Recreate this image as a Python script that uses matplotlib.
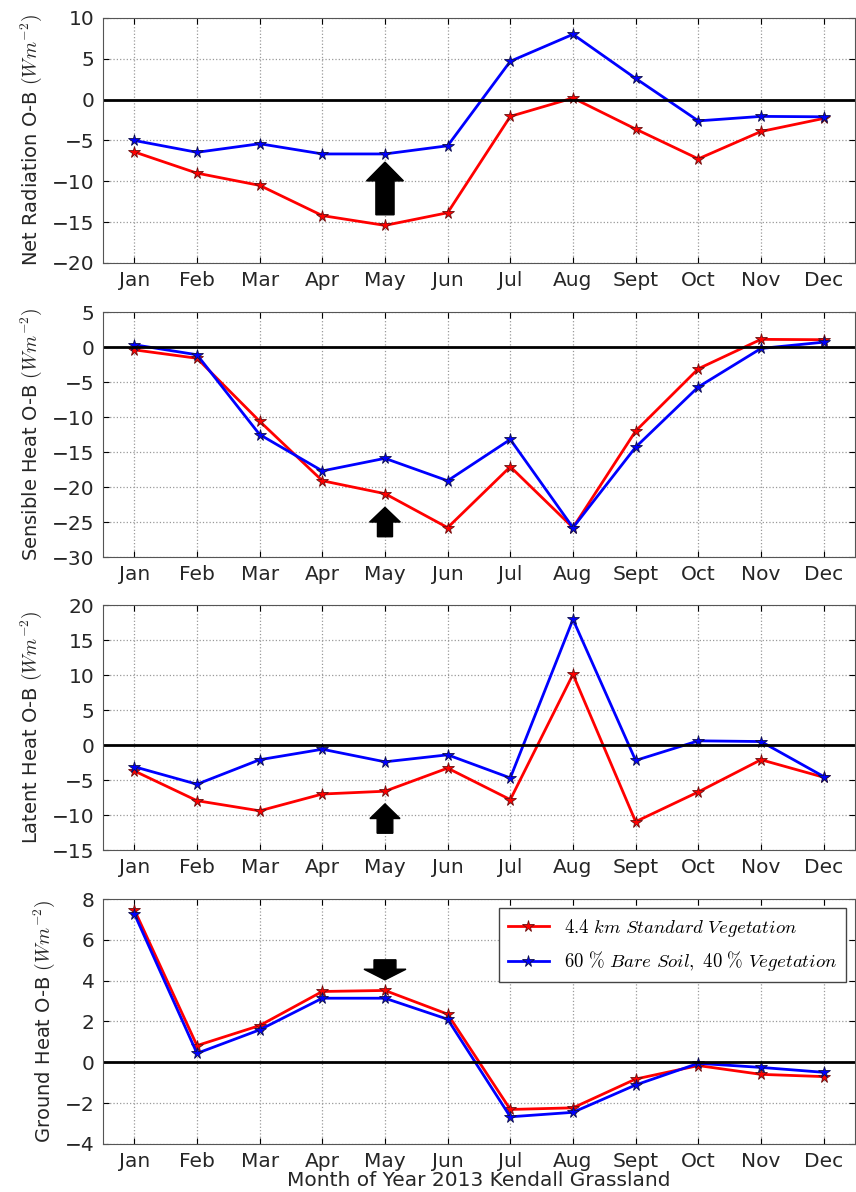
import numpy as np
import matplotlib
matplotlib.use('Agg')
import matplotlib.pyplot as plt

plt.rcParams['mathtext.fontset'] = 'cm'
plt.rcParams['font.family'] = 'DejaVu Sans'

months = ['Jan', 'Feb', 'Mar', 'Apr', 'May', 'Jun', 'Jul', 'Aug', 'Sept',
          'Oct', 'Nov', 'Dec']
month_num = np.arange(1, 13)

# net radiation O-B
net_std = [-6.4, -9.0, -10.5, -14.2, -15.4, -13.85, -2.05, 0.2, -3.6, -7.25, -3.9, -2.3]
net_bare = [-5.0, -6.45, -5.4, -6.65, -6.65, -5.65, 4.7, 8.0, 2.6, -2.6, -2.05, -2.1]

# sensible heat O-B
sens_std = [-0.4, -1.6, -10.6, -19.1, -20.95, -25.8, -17.1, -25.8, -12.0, -3.1, 1.1, 1.05]
sens_bare = [0.33, -1.1, -12.5, -17.7, -15.9, -19.1, -13.2, -25.8, -14.3, -5.7, -0.2, 0.7]

# latent heat O-B
lat_std = [-3.7, -7.95, -9.4, -7.0, -6.6, -3.3, -7.8, 10.1, -10.95, -6.7, -2.1, -4.6]
lat_bare = [-3.1, -5.6, -2.1, -0.6, -2.4, -1.4, -4.7, 17.95, -2.2, 0.6, 0.5, -4.5]

# ground heat O-B
gnd_std = [7.48, 0.82, 1.8, 3.47, 3.52, 2.36, -2.31, -2.23, -0.82, -0.16, -0.59, -0.7]
gnd_bare = [7.28, 0.44, 1.59, 3.14, 3.14, 2.11, -2.67, -2.45, -1.11, -0.05, -0.25, -0.49]

labels = ['Net Radiation O-B', 'Sensible Heat O-B', 'Latent Heat O-B',
          'Ground Heat O-B']
ylims = [(-20, 10), (-30, 5), (-15, 20), (-4, 8)]
ysteps = [5, 5, 5, 2]
# arrow at May: (tail, tip, head length, shaft width, head width)
arrows = [(-14.1, -7.65, 2.3, 0.29, 0.59),
          (-27.1, -22.9, 2.1, 0.24, 0.49),
          (-12.6, -8.4, 2.1, 0.25, 0.48),
          (5.02, 4.04, 0.52, 0.35, 0.67)]

series = [(net_std, net_bare), (sens_std, sens_bare), (lat_std, lat_bare),
          (gnd_std, gnd_bare)]

# axes positions (figure fraction)
bottoms = [0.7794, 0.5327, 0.2869, 0.0403]
left, width, height = 0.1203, 0.8785, 0.2055

fig = plt.figure(figsize=(8.56, 11.92), dpi=100)

text_col = '#262626'
for i in range(4):
    ax = fig.add_axes([left, bottoms[i], width, height])
    std_vals, bare_vals = series[i]
    ax.plot(month_num, std_vals, color='r', lw=2, marker='*', ms=8.5,
            mec='#6a1010', mew=0.6,
            label=r'$4.4\ km\ Standard\ Vegetation$')
    ax.plot(month_num, bare_vals, color='b', lw=2, marker='*', ms=8.5,
            mec='#10104a', mew=0.6,
            label=r'$60\ \%\ Bare\ Soil,\ 40\ \%\ Vegetation$')
    ax.axhline(0, color='k', lw=2)

    tail, tip, hl, sw, hw = arrows[i]
    ax.arrow(5, tail, 0, tip - tail, width=sw, head_width=hw, head_length=hl,
             length_includes_head=True, fc='k', ec='k', zorder=5)

    ax.set_xlim(0.5, 12.5)
    ax.set_ylim(*ylims[i])
    ax.set_yticks(np.arange(ylims[i][0], ylims[i][1] + 0.1, ysteps[i]))
    ax.set_xticks(month_num)
    ax.set_xticklabels(months)
    ax.grid(True, color='#999999', linestyle=':', lw=0.9)
    ax.tick_params(direction='in', top=True, right=True, labelsize=14.5,
                   labelcolor=text_col, length=4, pad=6)
    for sp in ax.spines.values():
        sp.set_color('#555555')
    ax.set_ylabel(labels[i] + r' $(Wm^{-2})$', fontsize=14, color=text_col,
                  labelpad=6)

    if i == 3:
        ax.set_xlabel('Month of Year 2013 Kendall Grassland', fontsize=14.5,
                      color=text_col, labelpad=0)
        leg = ax.legend(loc='upper right', fontsize=13.5, fancybox=False,
                        framealpha=1, edgecolor='#444444', handlelength=2.2,
                        borderpad=0.45, labelspacing=0.55)

fig.savefig('out.png', dpi=100)
